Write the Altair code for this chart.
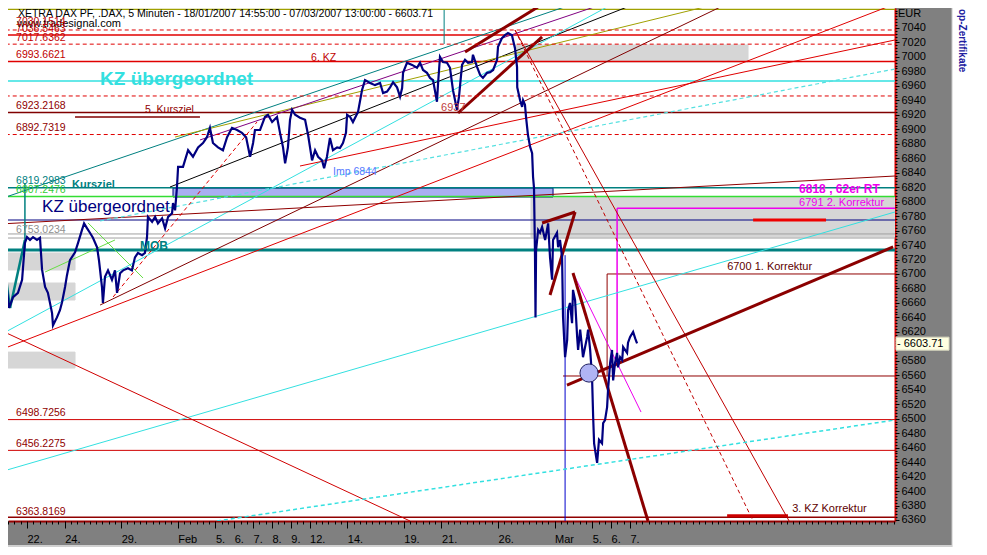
import altair as alt
import pandas as pd

# x: trading-day index (0 = Thu 18 Jan 2007), y: DAX points
X_DOMAIN = [0.992, 48.07]
Y_DOMAIN = [6358.6, 7067.6]

tick_days = [2, 4, 7, 10, 12, 13, 14, 15, 16, 17, 19, 22, 24, 27, 30, 32, 33, 34]
tick_labels = ["22.", "24.", "29.", "Feb", "5.", "6.", "7.", "8.", "9.", "12.", "14.",
               "19.", "21.", "26.", "Mar", "5.", "6.", "7."]
y_ticks = [v for v in range(6360, 7041, 20) if v != 6600]

price_day = [0.67, 0.83, 1.05, 1.26, 1.52, 1.74, 1.89, 2.00, 2.16, 2.32, 2.53, 2.69, 2.80, 2.96, 3.11,
             3.33, 3.38, 3.59, 3.75, 3.86, 4.02, 4.12, 4.28, 4.55, 4.71, 4.92, 5.03, 5.19, 5.34, 5.50,
             5.72, 5.82, 5.98, 6.03, 6.14, 6.30, 6.51, 6.67, 6.78, 6.94, 7.10, 7.36, 7.57, 7.73, 7.89,
             8.11, 8.26, 8.37, 8.42, 8.64, 8.80, 8.95, 9.17, 9.33, 9.49, 9.70, 9.75, 9.86, 9.96, 10.02,
             10.28, 10.55, 10.81, 11.08, 11.34, 11.55, 11.71, 11.87, 12.14, 12.40, 12.62, 12.88, 13.15,
             13.41, 13.63, 13.84, 14.00, 14.10, 14.37, 14.63, 14.79, 15.01, 15.27, 15.43, 15.59, 15.70,
             15.85, 15.96, 16.07, 16.23, 16.49, 16.76, 16.92, 17.13, 17.29, 17.45, 17.66, 17.77, 17.92,
             18.08, 18.24, 18.46, 18.61, 18.77, 18.93, 18.99, 19.15, 19.30, 19.57, 19.78, 19.94, 20.21,
             20.47, 20.74, 20.90, 21.11, 21.27, 21.43, 21.64, 21.80, 21.91, 21.96, 22.17, 22.44, 22.70,
             22.86, 23.02, 23.23, 23.39, 23.55, 23.76, 23.82, 23.92, 24.08, 24.29, 24.45, 24.61, 24.72,
             24.82, 24.93, 25.09, 25.25, 25.41, 25.62, 25.67, 25.89, 26.05, 26.20, 26.42, 26.58, 26.74,
             26.95, 27.00, 27.21, 27.37, 27.53, 27.74, 27.80, 27.90, 28.01, 28.02, 28.17, 28.28, 28.33,
             28.43, 28.49, 28.59, 28.70, 28.81, 28.86, 28.91, 28.96, 28.99, 29.02, 29.13, 29.23, 29.34,
             29.50, 29.66, 29.76, 29.87, 29.92, 30.13, 30.19, 30.29, 30.40, 30.45, 30.56, 30.67, 30.72,
             30.82, 30.93, 30.98, 31.09, 31.20, 31.25, 31.36, 31.46, 31.51, 31.73, 31.78, 31.89, 31.99,
             32.05, 32.10, 32.21, 32.26, 32.36, 32.52, 32.58, 32.68, 32.79, 32.84, 32.95, 33.05, 33.11,
             33.21, 33.32, 33.37, 33.48, 33.59, 33.64, 33.85, 33.90, 34.01, 34.17, 34.28, 34.38]
price_val = [6736, 6701, 6653, 6668, 6674, 6692, 6743, 6751, 6747, 6751, 6747, 6750, 6706, 6682, 6674,
             6646, 6629, 6640, 6650, 6661, 6682, 6698, 6719, 6730, 6743, 6761, 6770, 6763, 6757, 6750,
             6737, 6719, 6682, 6660, 6696, 6705, 6692, 6705, 6674, 6701, 6705, 6708, 6705, 6723, 6729,
             6726, 6729, 6751, 6779, 6772, 6779, 6770, 6777, 6763, 6779, 6784, 6798, 6788, 6820, 6848,
             6848, 6871, 6862, 6875, 6881, 6889, 6902, 6881, 6875, 6871, 6889, 6902, 6899,
             6895, 6889, 6862, 6881, 6899, 6899, 6917, 6920, 6910, 6917, 6895, 6875, 6853,
             6875, 6913, 6927, 6920, 6916, 6913, 6892, 6857, 6871, 6862, 6857, 6846, 6862,
             6888, 6871, 6875, 6874, 6881, 6895, 6920, 6917, 6910, 6924, 6954, 6968, 6964,
             6961, 6964, 6950, 6952, 6958, 6965, 6958, 6945, 6957, 6978, 6992, 6989, 6985,
             6992, 6982, 6978, 6971, 6968, 6938, 6964, 7000, 6993, 6992, 6985, 6954, 6940,
             6927, 6945, 6989, 6996, 6992, 6993, 7003, 6986, 6975, 6971, 6978, 6979, 6982,
             6996, 7014, 7026, 7030, 7033, 7030, 7023, 7012, 6986, 6958, 6940, 6931, 6940,
             6934, 6916, 6892, 6876, 6867, 6834, 6819, 6733, 6640, 6733, 6761, 6757, 6765,
             6747, 6770, 6723, 6692, 6747, 6757, 6737, 6747, 6723, 6641, 6585, 6609, 6650,
             6660, 6632, 6678, 6664, 6613, 6595, 6623, 6599, 6585, 6613, 6623, 6595, 6558,
             6502, 6466, 6447, 6439, 6471, 6466, 6494, 6498, 6516, 6540, 6577, 6595, 6553,
             6577, 6591, 6571, 6585, 6581, 6599, 6591, 6605, 6613, 6620, 6611, 6604]

# boxes: x1, x2, y1, y2, fill, stroke
box_x1 = [27.90, 28.75, 9.75, 0.5, 0.5, 0.5]
box_x2 = [40.27, 48.50, 29.92, 4.55, 4.55, 4.55]
box_y1 = [7016.5, 6806.4, 6818.8, 6729.0, 6687.5, 6592.0]
box_y2 = [6993.0, 6751.1, 6806.4, 6705.5, 6664.0, 6570.0]
box_fill = ["#d6d6d6", "#d6d6d6", "#a9aef2", "#d6d6d6", "#d6d6d6", "#d6d6d6"]
box_stroke = ["#d6d6d6", "#d6d6d6", "#000080", "#d6d6d6", "#d6d6d6", "#d6d6d6"]

# line segments: x1, y1, x2, y2, colour, width, dashed
segs = [
    (0.5, 7076.0, 48.5, 7076.0, "#e00000", 1.5, 0),
    (0.5, 7065.6, 48.5, 7065.6, "#a0a000", 1.2, 0),
    (0.5, 7037.2, 48.5, 7037.2, "#e00000", 1, 1),
    (0.5, 7030.15, 48.5, 7030.15, "#e00000", 1.5, 0),
    (0.5, 7017.64, 48.5, 7017.64, "#e00000", 1, 1),
    (0.5, 6993.66, 48.5, 6993.66, "#e00000", 1.5, 0),
    (0.5, 6966.7, 48.5, 6966.7, "#33e0e0", 1.5, 0),
    (0.5, 6946.0, 48.5, 6946.0, "#e00000", 1, 1),
    (0.5, 6923.22, 48.5, 6923.22, "#800000", 1.5, 0),
    (4.55, 6917.0, 11.18, 6917.0, "#800000", 1.5, 0),
    (0.5, 6892.73, 48.5, 6892.73, "#e00000", 1, 1),
    (0.5, 6819.3, 48.5, 6819.3, "#008080", 1.5, 0),
    (0.5, 6807.25, 48.5, 6807.25, "#33dd33", 1.5, 0),
    (0.5, 6774.6, 48.5, 6774.6, "#000080", 1, 0),
    (0.5, 6755.3, 48.5, 6755.3, "#a0a0a0", 1, 0),
    (0.5, 6749.7, 48.5, 6749.7, "#a0a0a0", 1, 0),
    (0.5, 6733.2, 48.5, 6733.2, "#008080", 3, 0),
    (0.5, 6498.73, 48.5, 6498.73, "#d00000", 1, 0),
    (0.5, 6456.23, 48.5, 6456.23, "#d00000", 1, 0),
    (0.5, 6363.82, 48.5, 6363.82, "#900000", 1.5, 0),
    (30.45, 6559.0, 48.5, 6559.0, "#900000", 1, 0),
    (32.79, 6700.0, 48.5, 6700.0, "#900000", 1, 0),
    (32.79, 6700.0, 32.79, 6559.0, "#900000", 1, 0),
    (33.32, 6791.0, 48.5, 6791.0, "#ee00ee", 1.5, 0),
    (33.32, 6791.0, 33.32, 6573.0, "#ee00ee", 1.5, 0),
    (30.56, 6726.0, 30.56, 6350.0, "#0000cc", 1, 0),
    (24.14, 7064.9, 24.14, 7017.9, "#008080", 1, 0),
    (40.54, 6774.6, 44.41, 6774.6, "#ee0000", 3, 0),
    (39.16, 6366.0, 42.39, 6366.0, "#cc0000", 3, 0),
    # long trend lines
    (9.59, 6820.2, 34.80, 7078.7, "#000000", 1, 0),
    (0.57, 6803.6, 31.62, 7078.7, "#008080", 1, 0),
    (9.86, 6889.3, 39.47, 7078.7, "#a0a000", 1, 0),
    (11.18, 6885.2, 33.21, 7078.7, "#800080", 1, 0),
    (0.57, 6426.3, 48.07, 6785.7, "#33e0e0", 1, 0),
    (0.57, 6615.7, 33.48, 7078.7, "#33e0e0", 1, 0),
    (12.08, 6358.6, 48.07, 6498.2, "#33e0e0", 1.5, 1),
    (5.88, 6773.2, 48.07, 6983.3, "#55e0e0", 1.2, 1),
    (0.57, 6622.6, 22.33, 6358.6, "#d00000", 1, 0),
    (5.88, 6657.1, 39.58, 7078.7, "#800000", 1, 0),
    (0.57, 6594.9, 48.07, 7073.2, "#e00000", 1, 0),
    (16.49, 6849.2, 48.07, 7023.4, "#e00000", 1, 0),
    (0.57, 6769.1, 48.07, 6835.4, "#900000", 1, 0),
    (6.57, 6668.2, 14.21, 6910.1, "#e00000", 1, 1),
    (27.90, 7037.2, 42.45, 6358.6, "#c00000", 1, 0),
    (27.90, 7037.2, 40.54, 6358.6, "#c00000", 1, 1),
    (30.98, 6701.4, 34.59, 6509.2, "#ee00ee", 1, 0),
    (5.24, 6770.5, 8.16, 6694.4, "#66dd44", 1, 0),
    (2.96, 6702.7, 6.67, 6747.0, "#66dd44", 1, 0),
    (1.89, 6825.8, 1.89, 6733.2, "#008080", 1.5, 0),
    (0.67, 6735.9, 1.10, 6652.9, "#008080", 2.5, 0),
    (1.10, 6652.9, 1.89, 6746.9, "#008080", 2.5, 0),
    # thick maroon pattern lines
    (30.66, 6546.5, 47.97, 6737.3, "#8b0000", 3, 0),
    (30.98, 6701.4, 34.96, 6358.6, "#8b0000", 3, 0),
    (29.34, 6770.5, 31.09, 6785.7, "#8b0000", 3, 0),
    (31.09, 6785.7, 29.76, 6671.0, "#8b0000", 3, 0),
    (25.25, 7006.8, 29.12, 7069.0, "#8b0000", 3, 0),
    (24.88, 6922.5, 29.34, 7027.6, "#8b0000", 3, 0),
]

labels = [
    ("XETRA DAX PF, .DAX, 5 Minuten - 18/01/2007 14:55:00 - 07/03/2007 13:00:00 - 6603.71", 1.52, 7059.3, "#000000", 10.5, "normal"),
    ("www.tradesignal.com", 1.47, 7045.0, "#000000", 11, "normal"),
    ("7030.1514", 1.42, 7048.3, "#c00000", 10.5, "normal"),
    ("7036.5463", 1.42, 7038.6, "#c00000", 10.5, "normal"),
    ("7017.6362", 1.42, 7026.2, "#c00000", 10.5, "normal"),
    ("6993.6621", 1.42, 7002.7, "#c00000", 10.5, "normal"),
    ("6. KZ", 17.08, 6998.5, "#c00000", 10.5, "normal"),
    ("KZ übergeordnet", 5.88, 6969.5, "#33e0e0", 19, "bold"),
    ("6923.2168", 1.42, 6932.2, "#900000", 10.5, "normal"),
    ("5. Kursziel", 8.26, 6926.7, "#900000", 10.5, "normal"),
    ("6892.7319", 1.42, 6901.8, "#900000", 10.5, "normal"),
    ("6937", 23.98, 6929.4, "#c04040", 11, "normal"),
    ("Imp 6844", 18.24, 6841.0, "#5577ff", 10.5, "normal"),
    ("6819.2983", 1.42, 6828.5, "#008080", 10.5, "normal"),
    ("Kursziel", 4.39, 6823.0, "#008080", 11, "bold"),
    ("6807.2476", 1.42, 6816.1, "#33cc33", 10.5, "normal"),
    ("KZ übergeordnet", 2.80, 6792.6, "#000080", 17, "normal"),
    ("6753.0234", 1.42, 6760.8, "#909090", 10.5, "normal"),
    ("MOB", 8.00, 6738.7, "#008080", 12, "bold"),
    ("6818 , 62er RT", 42.98, 6817.5, "#ee00ee", 12, "bold"),
    ("6791 2. Korrektur", 42.98, 6798.1, "#ee00ee", 11, "normal"),
    ("6700 1. Korrektur", 39.16, 6709.7, "#600000", 11, "normal"),
    ("6498.7256", 1.42, 6507.8, "#900000", 10.5, "normal"),
    ("6456.2275", 1.42, 6465.0, "#900000", 10.5, "normal"),
    ("6363.8169", 1.42, 6371.0, "#900000", 10.5, "normal"),
    ("3. KZ Korrektur", 42.61, 6375.2, "#600000", 11, "normal"),
]

FONT = "Liberation Sans"
xs = alt.Scale(domain=X_DOMAIN, nice=False, zero=False)
ys = alt.Scale(domain=Y_DOMAIN, nice=False, zero=False)

price_df = pd.DataFrame({"d": price_day, "p": price_val, "i": range(len(price_day))})
box_df = pd.DataFrame({"x": box_x1, "x2": box_x2, "y": box_y1, "y2": box_y2, "f": box_fill, "s": box_stroke})
seg_df = pd.DataFrame(segs, columns=["x", "y", "x2", "y2", "c", "w", "dash"])
lab_df = pd.DataFrame(labels, columns=["t", "x", "y", "c", "s", "b"])

boxes = alt.Chart(box_df).mark_rect(clip=True, strokeWidth=1).encode(
    x=alt.X("x:Q", scale=xs, axis=None), x2="x2", y=alt.Y("y:Q", scale=ys, axis=None), y2="y2",
    fill=alt.Fill("f:N", scale=None), stroke=alt.Stroke("s:N", scale=None))


def seg_layer(df, dashed):
    m = alt.Chart(df).mark_rule(clip=True, strokeDash=[4, 3]) if dashed else alt.Chart(df).mark_rule(clip=True)
    return m.encode(
        x=alt.X("x:Q", scale=xs, axis=None), x2="x2", y=alt.Y("y:Q", scale=ys, axis=None), y2="y2",
        color=alt.Color("c:N", scale=None), strokeWidth=alt.StrokeWidth("w:Q", scale=None))


solid = seg_layer(seg_df[seg_df.dash == 0], False)
dashed = seg_layer(seg_df[seg_df.dash == 1], True)

x_axis = alt.Axis(orient="bottom", values=tick_days,
                  labelExpr="[" + ",".join("'%s'" % s for s in tick_labels) + "][indexof(["
                  + ",".join(str(v) for v in tick_days) + "], datum.value)]",
                  labelAlign="left", labelBaseline="middle", labelPadding=11, tickSize=7,
                  tickColor="#000000", domainColor="#990000", domainWidth=2, labelFont=FONT,
                  labelFontSize=11, labelColor="#000000", grid=False, title=None, labelOverlap=False)
y_axis = alt.Axis(orient="right", values=y_ticks, format="d", labelAlign="left", labelBaseline="middle",
                  labelPadding=2, tickSize=4, tickColor="#000000", domainColor="#dd0000", domainWidth=2,
                  labelFont=FONT, labelFontSize=11, labelColor="#000000", grid=False, title=None,
                  labelOverlap=False)

price = alt.Chart(price_df).mark_line(color="#000080", strokeWidth=2.2, clip=True).encode(
    x=alt.X("d:Q", scale=xs, axis=x_axis), y=alt.Y("p:Q", scale=ys, axis=y_axis), order="i:Q")

minor = alt.Chart(price_df).mark_line(opacity=0).encode(
    x=alt.X("d:Q", scale=xs, axis=alt.Axis(orient="bottom", values=[v / 3 for v in range(3, 145)],
                                            labels=False, tickSize=3, tickColor="#000000", domain=False,
                                            grid=False, title=None)),
    y=alt.Y("p:Q", scale=ys, axis=alt.Axis(orient="right", values=list(range(6360, 7068, 4)),
                                            labels=False, tickSize=2, tickColor="#000000", domain=False,
                                            grid=False, title=None)))

circle = alt.Chart(pd.DataFrame({"d": [31.83], "p": [6563.1]})).mark_point(
    filled=True, size=330, fill="#b0b4f4", stroke="#202060", strokeWidth=1, opacity=1).encode(
    x=alt.X("d:Q", scale=xs, axis=None), y=alt.Y("p:Q", scale=ys, axis=None))


def text_layer(df, weight):
    return alt.Chart(df).mark_text(align="left", baseline="middle", font=FONT, fontWeight=weight).encode(
        x=alt.X("x:Q", scale=xs, axis=None), y=alt.Y("y:Q", scale=ys, axis=None), text="t:N",
        color=alt.Color("c:N", scale=None), size=alt.Size("s:Q", scale=None))


txt_n = text_layer(lab_df[lab_df.b == "normal"], "normal")
txt_b = text_layer(lab_df[lab_df.b == "bold"], "bold")

one = pd.DataFrame({"a": [0]})
last_box = alt.Chart(pd.DataFrame({"y": [6594.7], "y2": [6612.7]})).mark_rect(
    fill="#ffffe1", stroke="#d8d8c0").encode(
    x=alt.value(888), x2=alt.value(941), y=alt.Y("y:Q", scale=ys, axis=None), y2="y2")
last_txt = alt.Chart(pd.DataFrame({"p": [6603.71], "t": ["- 6603.71"]})).mark_text(
    align="left", baseline="middle", font=FONT, fontSize=11, color="#000000").encode(
    x=alt.value(889), y=alt.Y("p:Q", scale=ys, axis=None), text="t:N")
eur = alt.Chart(one).mark_text(align="left", baseline="middle", font=FONT, fontSize=11,
                               text="EUR", color="#000000").encode(x=alt.value(890), y=alt.value(6))
panel = alt.Chart(one).mark_rect(fill="#ffffff", stroke="#c8c8c8").encode(
    x=alt.value(944), x2=alt.value(972), y=alt.value(-2), y2=alt.value(541))
panel_txt = alt.Chart(one).mark_text(angle=90, align="left", baseline="middle", font=FONT, fontSize=10,
                                     fontWeight="bold", color="#2020a0", text="op-Zertifikate").encode(
    x=alt.value(954), y=alt.value(1))
bottom_strip = alt.Chart(one).mark_rect(fill="#d0d0d0").encode(
    x=alt.value(0), x2=alt.value(944), y=alt.value(537), y2=alt.value(541))

chart = alt.layer(
    boxes, solid, dashed, price, minor, circle, txt_n, txt_b,
    last_box, last_txt, eur, panel, panel_txt, bottom_strip
).resolve_axis(x="independent", y="independent").properties(
    width=887, height=513,
    padding={"left": 0, "top": 0, "right": 84, "bottom": 26},
    autosize=alt.AutoSizeParams(type="none"),
    background="#808080",
).configure_view(fill="#ffffff", stroke=None)

chart.save("out.html", embed_options={"renderer": "svg", "actions": False})
